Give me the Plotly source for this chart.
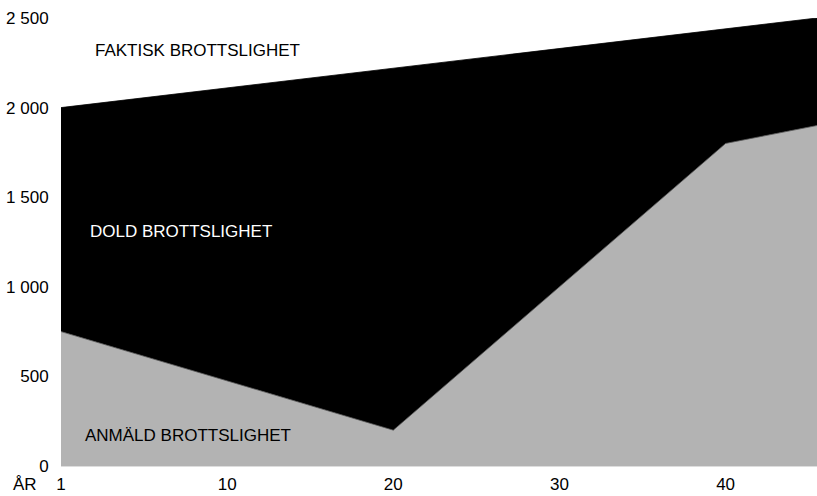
import plotly.graph_objects as go

# Data (x = years since start; tick "1" sits at position 0)
years_reported = [0, 20, 40, 45.5]
reported = [750, 200, 1800, 1900]
years_total = [0, 45.5]
total = [2000, 2500]

tick_vals = [0, 10, 20, 30, 40]
tick_text = ["1", "10", "20", "30", "40"]
y_ticks = [0, 500, 1000, 1500, 2000, 2500]

FONT = "Liberation Sans, Arial, Helvetica, sans-serif"

fig = go.Figure()
fig.add_trace(go.Scatter(
    x=years_reported, y=reported, mode="lines", fill="tozeroy",
    fillcolor="#b3b3b3", line=dict(color="#555555", width=0.8),
    hoverinfo="skip", showlegend=False))
fig.add_trace(go.Scatter(
    x=years_total, y=total, mode="lines", fill="tonexty",
    fillcolor="#000000", line=dict(color="#000000", width=0.8),
    hoverinfo="skip", showlegend=False))

fig.add_annotation(x=1.9, y=2321, text="FAKTISK BROTTSLIGHET", showarrow=False,
                   xanchor="left", yanchor="middle", font=dict(color="#000000", size=17, family=FONT))
fig.add_annotation(x=1.6, y=1311, text="DOLD BROTTSLIGHET", showarrow=False,
                   xanchor="left", yanchor="middle", font=dict(color="#ffffff", size=17, family=FONT))
fig.add_annotation(x=1.3, y=173, text="ANMÄLD BROTTSLIGHET", showarrow=False,
                   xanchor="left", yanchor="middle", font=dict(color="#000000", size=17, family=FONT))
fig.add_annotation(xref="paper", yref="paper", x=0, y=0, xshift=-50, yshift=-18,
                   text="ÅR", showarrow=False, xanchor="left", yanchor="middle",
                   font=dict(color="#000000", size=17, family=FONT))

fig.update_layout(
    width=817, height=496,
    margin=dict(l=61, r=0, t=18, b=30),
    paper_bgcolor="white", plot_bgcolor="white",
    font=dict(family=FONT, size=17, color="#000000"),
    separators=", ",
    xaxis=dict(range=[0, 45.5], tickvals=tick_vals, ticktext=tick_text,
               showgrid=False, zeroline=False, showline=True, linecolor="#dddddd",
               linewidth=1, ticks="outside", ticklen=3, tickcolor="rgba(0,0,0,0)",
               fixedrange=True, automargin=False),
    yaxis=dict(range=[0, 2500], tickvals=y_ticks, tickformat=",d",
               showgrid=False, zeroline=False, showline=False,
               ticks="outside", ticklen=8, tickcolor="rgba(0,0,0,0)",
               fixedrange=True, automargin=False),
)

fig.write_html("out.html", config={"displayModeBar": False},
               post_script="document.body.style.margin='0';")
